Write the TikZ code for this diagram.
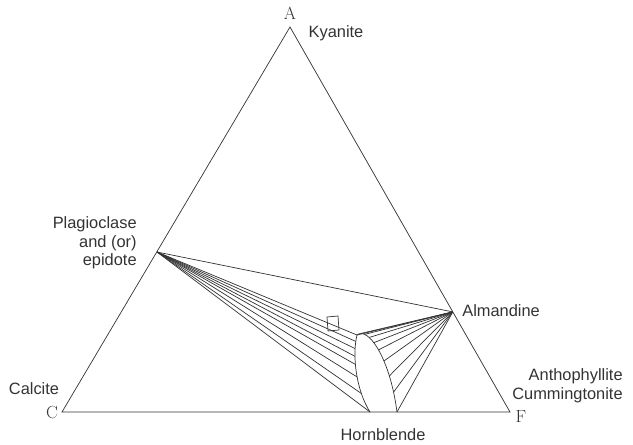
\documentclass[tikz,border=0pt]{standalone}
\usepackage{fontspec}
\setsansfont{Liberation Sans}
\usetikzlibrary{calc}
\begin{document}
\begin{tikzpicture}[x=0.03cm, y=-0.03cm, line width=0.6pt, color=black!80,
    every node/.style={font=\sffamily\fontsize{14}{16}\selectfont},
    corner/.style={font=\rmfamily\fontsize{15}{16}\selectfont}]

    \useasboundingbox (0,0) rectangle (633,445);

    % corners and points
    \coordinate (A) at (290,27);
    \coordinate (C) at (62,412);
    \coordinate (F) at (510,412);
    \coordinate (P) at (157,252);
    \coordinate (M) at ($(A)!0.74!(F)$);
    \coordinate (T) at (357,335);
    \coordinate (hl) at (370,412);
    \coordinate (hr) at (397,412);

    \draw (A) -- (C) -- (F) -- cycle;
    \draw (P) -- (M);

    % hornblende field
    \draw (T) .. controls (352,355) and (356,390) .. (hl)
        foreach \t [count=\i] in {0.1,0.2,0.3,0.4,0.55,0.75} {coordinate[pos=\t] (l\i)};
    \draw (T) .. controls (368,326) and (390,358) .. (hr)
        foreach \t [count=\i] in {0.1,0.2,0.3,0.4,0.5,0.62,0.75,0.87} {coordinate[pos=\t] (r\i)};
    \draw (327,317) -- (338,316) -- (339,330) -- (328,331) -- cycle;

    % tie lines
    \draw (P) -- (T);
    \draw (P) -- (hl);
    \foreach \i in {1,...,6} \draw (P) -- (l\i);
    \draw (M) -- (T);
    \draw (M) -- (hr);
    \foreach \i in {1,...,8} \draw (M) -- (r\i);

    \node[corner] (a) at (290,13) {A};
    \node[corner] (c) at (52,412) {C};
    \node[corner] (f) at (521,417) {F};

    \node (ky) at (336,33) {Kyanite};
    \node (ca) at (34,389) {Calcite};
    \node[align=right, anchor=east, inner sep=0pt] (pg) at (137,243) {Plagioclase\\and (or)\\epidote};
    \node[anchor=west, inner sep=0pt] (al) at (462,311) {Almandine};
    \node[align=right, anchor=east, inner sep=0pt] (an) at (623,386) {Anthophyllite\\Cummingtonite};
    \node (hb) at (383,435) {Hornblende};
    \end{tikzpicture}
\end{document}
